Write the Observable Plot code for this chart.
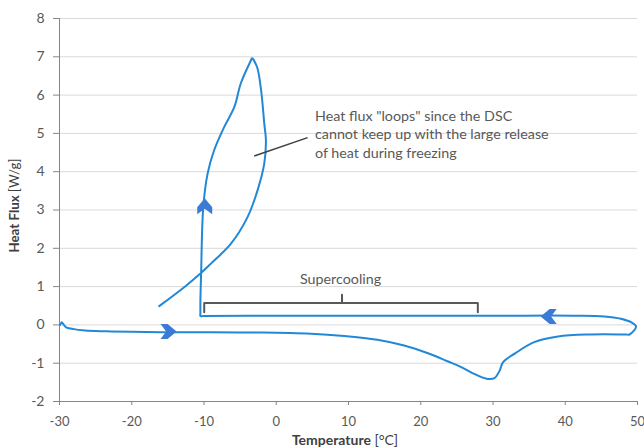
<!DOCTYPE html>
<html><head><meta charset="utf-8">
<script src="https://cdn.jsdelivr.net/npm/d3@7"></script>
<script src="https://cdn.jsdelivr.net/npm/@observablehq/plot@0.6"></script>
<style>body{margin:0;background:#fff}#chart{position:relative;width:644px;height:447px}</style>
</head><body><div id="chart"></div>
<script>
// DSC trace: heating (-30 -> 50), cooling (50 -> -10.5), freezing loop
const curveTemp = [-29.9,-29.7,-29.4,-29.0,-28.0,-26.8,-25.0,-22.9,-20.0,-16.0,-10.0,-5.0,-2.1,4.8,9.4,14.0,17.7,21.0,23.7,25.6,27.4,28.5,29.3,30.2,30.9,31.4,33.0,35.7,39.0,43.6,48.4,48.9,49.8,
  49.1,47.7,45.4,41.3,30,10,0,-10.1,-10.5,
  -10.5,-10.5,-10.4,-10.1,-9.5,-8.6,-7.2,-5.8,-4.9,-3.5,-3.37,-2.67,-2.1,-1.66,-1.43,-1.66,-2.58,-3.96,-6.27,-9.04,-10.5,-12.7,-16.2];
const curveFlux = [0.0,0.07,0.0,-0.07,-0.11,-0.14,-0.16,-0.17,-0.18,-0.19,-0.19,-0.2,-0.2,-0.23,-0.29,-0.39,-0.54,-0.74,-0.95,-1.10,-1.28,-1.37,-1.41,-1.39,-1.2,-0.97,-0.75,-0.45,-0.30,-0.25,-0.25,-0.25,-0.04,
  0.07,0.16,0.22,0.24,0.24,0.24,0.24,0.23,0.23,
  0.3,0.6,1.34,3.08,3.95,4.56,5.17,5.69,6.31,6.91,6.96,6.74,6.13,5.26,4.82,4.21,3.52,2.82,2.12,1.60,1.34,0.99,0.49];

// direction arrows on the trace
const arrowTemp = [-14.9, -9.9, 37.7];
const arrowFlux = [-0.17, 3.1, 0.22];
const arrowDir = ["right", "up", "left"];

// supercooling bracket
const bracketTemp = [-9.97,-9.97,9.1,9.1,9.1,27.9,27.9];
const bracketFlux = [0.33,0.57,0.57,0.79,0.57,0.57,0.33];

// annotation leader line
const leaderTemp = [-3.05, 4.34];
const leaderFlux = [4.41, 4.89];

const xTicks = [-30,-20,-10,0,10,20,30,40,50];
const yTicks = [-2,-1,0,1,2,3,4,5,6,7,8];

const noteText = 'Heat flux "loops" since the DSC\ncannot keep up with the large release\nof heat during freezing';
const noteTemp = 5.36, noteFlux = 5.0;
const superText = "Supercooling";
const superTemp = 8.9, superFlux = 1.18;

const curve = curveTemp.map((t, i) => ({t, v: curveFlux[i]}));
const arrows = arrowTemp.map((t, i) => ({t, v: arrowFlux[i], dir: arrowDir[i]}));
const bracket = bracketTemp.map((t, i) => ({t, v: bracketFlux[i]}));

function chevron(dir) {
  const base = [[8,0],[-1,-7.5],[-8,-7.5],[-2.5,0],[-8,7.5],[-1,7.5]];
  const rot = {right: 0, up: -Math.PI/2, left: Math.PI}[dir];
  const c = Math.cos(rot), s = Math.sin(rot);
  return {draw(ctx, size) {
    const k = Math.sqrt(size / Math.PI) / 7.5;
    base.forEach(([x, y], i) => {
      const px = k * (x * c - y * s), py = k * (x * s + y * c);
      i ? ctx.lineTo(px, py) : ctx.moveTo(px, py);
    });
    ctx.closePath();
  }};
}

const plot = Plot.plot({
  width: 644, height: 447,
  marginLeft: 59, marginRight: 7, marginTop: 18, marginBottom: 46,
  style: {fontFamily: "Lato, 'Open Sans', sans-serif", fontSize: "14px", background: "#fff", color: "#595959"},
  x: {domain: [-30, 50]},
  y: {domain: [-2, 8]},
  marks: [
    Plot.ruleY(yTicks, {stroke: "#d9d9d9", strokeWidth: 1}),
    Plot.ruleX([-30], {stroke: "#868686"}),
    Plot.ruleY([-2], {stroke: "#868686"}),
    Plot.axisX({ticks: xTicks, tickSize: 4, tickPadding: 11, stroke: "#868686", fill: "#595959", fontSize: 13, label: null, tickFormat: d => String(d)}),
    Plot.axisY({ticks: yTicks, tickSize: 6, tickPadding: 9, stroke: "#868686", fill: "#595959", label: null, tickFormat: d => String(d)}),
    Plot.line(curve, {x: "t", y: "v", stroke: "#2188d8", strokeWidth: 2, curve: "catmull-rom"}),
    ...["right","up","left"].map(dir => Plot.dot(arrows.filter(d => d.dir === dir), {x: "t", y: "v", r: 7.5, symbol: chevron(dir), fill: "#3a7bd5", stroke: "none"})),
    Plot.line(bracket, {x: "t", y: "v", stroke: "#595959", strokeWidth: 2, strokeLinejoin: "round"}),
    Plot.link([0], {x1: () => leaderTemp[0], y1: () => leaderFlux[0], x2: () => leaderTemp[1], y2: () => leaderFlux[1], stroke: "#404040", strokeWidth: 1.5}),
    Plot.text([noteText], {x: noteTemp, y: noteFlux, text: d => d, textAnchor: "start", lineAnchor: "middle", lineHeight: 1.3, fontSize: 14.3, fill: "#595959"}),
    Plot.text([superText], {x: superTemp, y: superFlux, text: d => d, textAnchor: "middle", fontSize: 14.3, fill: "#595959"})
  ]
});

const svg = d3.select(plot);
const yl = svg.append("text").attr("transform", "translate(16,205.5) rotate(-90)").attr("text-anchor", "middle")
  .attr("dominant-baseline", "middle").attr("fill", "#404040").attr("font-size", 13.3);
yl.append("tspan").attr("font-weight", "bold").text("Heat Flux ");
yl.append("tspan").text("[W/g]");
const xl = svg.append("text").attr("x", 345).attr("y", 441).attr("text-anchor", "middle")
  .attr("dominant-baseline", "middle").attr("fill", "#404040").attr("font-size", 14);
xl.append("tspan").attr("font-weight", "bold").text("Temperature ");
xl.append("tspan").text("[°C]");

document.getElementById("chart").appendChild(plot);
</script>
</body></html>
